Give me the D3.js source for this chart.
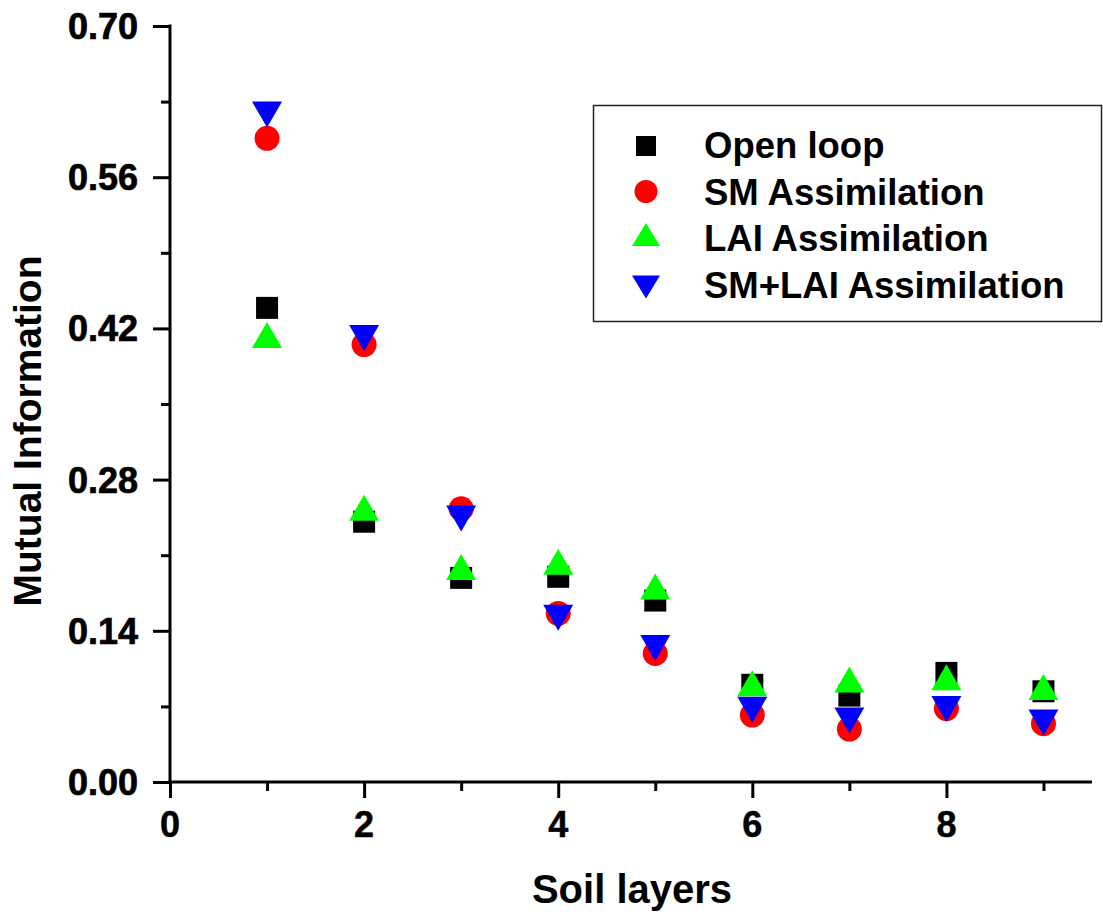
<!DOCTYPE html>
<html>
<head>
<meta charset="utf-8">
<script src="https://cdn.jsdelivr.net/npm/d3@7"></script>
<style>
  body { margin: 0; background: #fff; }
  svg { display: block; font-family: "Liberation Sans", Arial, sans-serif; font-weight: bold; }
</style>
</head>
<body>
<div id="chart"></div>
<script>
// soil layers 1..9
var layers = [1, 2, 3, 4, 5, 6, 7, 8, 9];

var openLoop = [0.439, 0.241, 0.189, 0.190, 0.168, 0.090, 0.080, 0.101, 0.084];
var smAssim  = [0.596, 0.405, 0.253, 0.156, 0.119, 0.062, 0.049, 0.068, 0.054];
var laiAssim = [0.414, 0.254, 0.199, 0.204, 0.181, 0.0915, 0.095, 0.097, 0.088];
var smLaiAssim = [0.618, 0.411, 0.244, 0.152, 0.124, 0.067, 0.057, 0.0675, 0.055];

var seriesNames = ['Open loop', 'SM Assimilation', 'LAI Assimilation', 'SM+LAI Assimilation'];
var seriesColors = ['#000000', '#ff0000', '#00ff00', '#0000ff'];
var seriesShapes = ['square', 'circle', 'up', 'down'];

var yTicks = [0.00, 0.14, 0.28, 0.42, 0.56, 0.70];
var xTicks = [0, 2, 4, 6, 8];

var width = 1103, height = 915;
var pLeft = 170, pRight = 1092, pTop = 26, pBottom = 782;

var svg = d3.select('#chart').append('svg')
  .attr('width', width)
  .attr('height', height);

var x = d3.scaleLinear().domain([0, 9.5]).range([pLeft, pRight]);
var y = d3.scaleLinear().domain([0, 0.70]).range([pBottom, pTop]);

// marker path centred on its bounding box
function markerPath(shape, s){
  var p = d3.path();
  if(shape == 'square'){
    p.rect(-s.sq/2, -s.sq/2, s.sq, s.sq);
  } else if(shape == 'circle'){
    p.arc(0, 0, s.r, 0, 2*Math.PI);
  } else if(shape == 'up'){
    p.moveTo(0, -s.th/2); p.lineTo(s.tw/2, s.th/2); p.lineTo(-s.tw/2, s.th/2); p.closePath();
  } else {
    p.moveTo(-s.tw/2, -s.th/2); p.lineTo(s.tw/2, -s.th/2); p.lineTo(0, s.th/2); p.closePath();
  }
  return p.toString();
}

var plotSize = {sq: 22, r: 12.5, tw: 30, th: 26};
var legendSize = {sq: 20, r: 11.5, tw: 28, th: 23};

// axes
var yAxis = d3.axisLeft(y)
  .tickValues(d3.range(0, 11).map(function(i){ return i*0.07; }))
  .tickSize(17)
  .tickFormat('');
var gy = svg.append('g').attr('transform', 'translate(' + pLeft + ',0)').call(yAxis);
gy.select('.domain').remove();
gy.selectAll('.tick line')
  .attr('stroke', '#000').attr('stroke-width', 3)
  .attr('x2', function(d, i){ return i % 2 == 0 ? -17 : -9; });

var xAxis = d3.axisBottom(x)
  .tickValues(d3.range(0, 10))
  .tickSize(16)
  .tickFormat('');
var gx = svg.append('g').attr('transform', 'translate(0,' + pBottom + ')').call(xAxis);
gx.select('.domain').remove();
gx.selectAll('.tick line')
  .attr('stroke', '#000').attr('stroke-width', 3)
  .attr('y2', function(d){ return d % 2 == 0 ? 16 : 9; });

svg.append('line')
  .attr('x1', pLeft).attr('x2', pLeft)
  .attr('y1', pTop - 1.5).attr('y2', pBottom + 1.5)
  .attr('stroke', '#000').attr('stroke-width', 3);
svg.append('line')
  .attr('x1', pLeft - 1.5).attr('x2', pRight)
  .attr('y1', pBottom).attr('y2', pBottom)
  .attr('stroke', '#000').attr('stroke-width', 3);

// tick labels (a bit heavier, as in the original)
svg.selectAll('.ylab').data(yTicks).enter().append('text')
  .attr('class', 'ylab')
  .attr('x', 138)
  .attr('y', function(d){ return y(d) + 13; })
  .attr('text-anchor', 'end')
  .attr('font-size', 36)
  .attr('stroke', '#000').attr('stroke-width', 0.7)
  .text(function(d){ return d.toFixed(2); });

svg.selectAll('.xlab').data(xTicks).enter().append('text')
  .attr('class', 'xlab')
  .attr('x', function(d){ return x(d); })
  .attr('y', 837)
  .attr('text-anchor', 'middle')
  .attr('font-size', 36)
  .attr('stroke', '#000').attr('stroke-width', 0.5)
  .text(function(d){ return d; });

// axis titles
svg.append('text')
  .attr('x', 632).attr('y', 903)
  .attr('text-anchor', 'middle')
  .attr('font-size', 40)
  .text('Soil layers');

svg.append('text')
  .attr('transform', 'translate(41,431) rotate(-90)')
  .attr('text-anchor', 'middle')
  .attr('font-size', 39)
  .text('Mutual Information');

// data points
var allSeries = [openLoop, smAssim, laiAssim, smLaiAssim];
allSeries.forEach(function(vals, si){
  svg.append('g').selectAll('path').data(vals).enter().append('path')
    .attr('d', markerPath(seriesShapes[si], plotSize))
    .attr('transform', function(d, i){ return 'translate(' + x(layers[i]) + ',' + y(d) + ')'; })
    .attr('fill', seriesColors[si]);
});

// legend
var legend = svg.append('g');
legend.append('rect')
  .attr('x', 593.5).attr('y', 105.5)
  .attr('width', 508).attr('height', 216)
  .attr('fill', '#fff').attr('stroke', '#222').attr('stroke-width', 1.5);

var rowY = [145, 191.5, 238, 284.5];
var symY = [146, 191.5, 234.5, 287];
seriesNames.forEach(function(name, i){
  legend.append('path')
    .attr('d', markerPath(seriesShapes[i], legendSize))
    .attr('transform', 'translate(646,' + symY[i] + ')')
    .attr('fill', seriesColors[i]);
  legend.append('text')
    .attr('x', 704)
    .attr('y', rowY[i] + 13)
    .attr('font-size', 36.5)
    .text(name);
});
</script>
</body>
</html>
